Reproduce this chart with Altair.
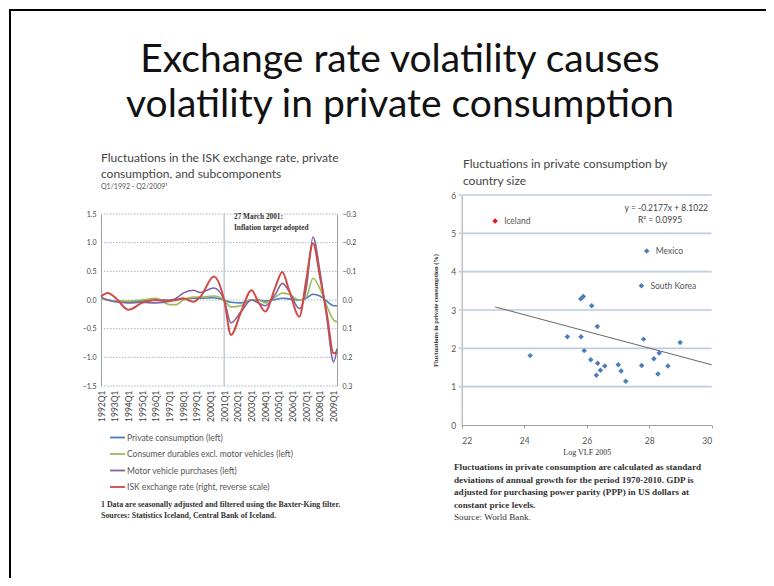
import altair as alt
import pandas as pd

W, H = 758, 570

# ---------------- Left panel data (quarterly, filtered) ----------------
quarters = ["1992Q1", "1992Q3", "1993Q1", "1994Q1", "1995Q1", "1996Q1", "1997Q1",
            "1997Q3", "1998Q1", "1998Q4", "1999Q2", "2000Q2", "2001Q1", "2001Q3",
            "2002Q2", "2003Q1", "2003Q3", "2004Q1", "2004Q4", "2005Q2", "2005Q4",
            "2006Q3", "2007Q1", "2007Q3", "2008Q1", "2008Q3", "2009Q1", "2009Q2"]
private_consumption = [0.03, 0.0, -0.02, -0.03, -0.02, 0.0, 0.0, 0.01, 0.02, 0.03, 0.03,
                       0.04, 0.0, -0.04, -0.05, 0.0, 0.0, -0.02, 0.01, 0.03, 0.02, 0.0,
                       0.03, 0.10, 0.07, -0.02, -0.10, -0.10]
consumer_durables = [0.02, 0.0, -0.02, -0.02, 0.0, 0.03, -0.08, -0.08, 0.0, 0.05, 0.05,
                     0.07, 0.0, -0.12, -0.10, 0.0, 0.0, -0.05, 0.05, 0.12, 0.10, 0.0,
                     0.05, 0.38, 0.20, -0.10, -0.35, -0.38]
motor_vehicles = [0.05, 0.0, -0.03, -0.05, -0.04, -0.05, -0.02, 0.03, 0.12, 0.17, 0.13,
                  0.21, 0.0, -0.40, -0.20, 0.0, -0.05, -0.10, 0.10, 0.29, 0.15, -0.15,
                  0.20, 1.10, 0.50, -0.30, -1.08, -0.85]
# right axis, reverse scale
isk_exchange_rate = [-0.012, -0.024, -0.010, 0.034, 0.010, 0.0, 0.004, 0.0, -0.006, 0.006,
                     -0.010, -0.082, 0.0, 0.122, 0.040, -0.034, 0.006, 0.040, -0.046,
                     -0.098, -0.034, 0.058, -0.070, -0.198, -0.082, 0.046, 0.186, 0.180]

series_names = ["Private consumption (left)",
                "Consumer durables excl. motor vehicles (left)",
                "Motor vehicle purchases (left)",
                "ISK exchange rate (right, reverse scale)"]
series_colors = ["#4A7EBB", "#9BBB59", "#8064A2", "#D04A46"]

left_ticks = [-1.5, -1.0, -0.5, 0.0, 0.5, 1.0, 1.5]
right_ticks = [-0.3, -0.2, -0.1, 0.0, 0.1, 0.2, 0.3]
year_ticks = list(range(1992, 2010))

# ---------------- Right panel data ----------------
scatter_x = [24.19, 25.38, 25.81, 25.89, 25.82, 25.92, 26.16, 26.13, 26.34, 26.35, 26.31,
             26.44, 26.58, 27.01, 27.10, 27.25, 27.76, 27.82, 28.15, 28.32, 28.28, 28.60,
             28.99]
scatter_y = [1.81, 2.30, 3.29, 3.35, 2.30, 1.94, 3.11, 1.70, 2.57, 1.61, 1.30, 1.43, 1.54,
             1.57, 1.41, 1.14, 1.55, 2.24, 1.73, 1.88, 1.33, 1.54, 2.15]
named_countries = ["Mexico", "South Korea"]
named_x = [27.92, 27.75]
named_y = [4.54, 3.63]
iceland_x = [23.07]
iceland_y = [5.32]
trend_slope = -0.2177
trend_intercept = 8.1022
trend_x_range = [23.07, 30.0]
right_y_ticks = [0, 1, 2, 3, 4, 5, 6]
right_x_ticks = [22, 24, 26, 28, 30]


def qdate(q):
    y, n = int(q[:4]), int(q[5])
    return f"{y}-{(n - 1) * 3 + 1:02d}-01T00:00:00"


dates = [qdate(q) for q in quarters]
df_left = pd.DataFrame({
    "date": dates * 3,
    "value": private_consumption + consumer_durables + motor_vehicles,
    "series": [series_names[0]] * len(dates) + [series_names[1]] * len(dates)
              + [series_names[2]] * len(dates),
})
df_red = pd.DataFrame({"date": dates, "value": isk_exchange_rate,
                       "series": [series_names[3]] * len(dates)})

# pixel frames of the panels (svg coords)
LX0, LX1, LY0, LY1 = 93, 329, 206, 378
RX0, RX1, RY0, RY1 = 453.7, 703.7, 187, 417

xscale = alt.Scale(domain=[alt.DateTime(year=1992, month=1, date=1),
                           alt.DateTime(year=2009, month=4, date=1)],
                   range=[LX0, LX1])
ly_scale = alt.Scale(domain=[-1.5, 1.5], range=[LY1, LY0], nice=False, zero=False)
ry_scale_red = alt.Scale(domain=[-0.3, 0.3], range=[LY0, LY1], nice=False, zero=False)
color_scale = alt.Scale(domain=series_names, range=series_colors)
legend = alt.Legend(orient="none", legendX=101, legendY=421, title=None,
                    symbolType="stroke", symbolSize=225, symbolStrokeWidth=1.8,
                    labelFont="Lato", labelFontSize=8.5, labelColor="#555",
                    labelLimit=400, rowPadding=3.5, labelOffset=1)

sx_scale = alt.Scale(domain=[22, 30], range=[RX0, RX1], nice=False, zero=False)
sy_scale = alt.Scale(domain=[0, 6], range=[RY1, RY0], nice=False, zero=False)

one = pd.DataFrame({"a": [0]})


def text_block(lines, x, y, size, font="Lato", weight="normal", color="#444",
               align="left", line_height=None, style="normal"):
    kw = dict(text=lines, align=align, baseline="alphabetic", font=font,
              fontSize=size, fontWeight=weight, color=color, fontStyle=style)
    if line_height:
        kw["lineHeight"] = line_height
    return alt.Chart(one).mark_text(**kw).encode(x=alt.value(x), y=alt.value(y))


frame_top = alt.Chart(one).mark_rule(color="black", strokeWidth=2).encode(
    x=alt.value(1), x2=alt.value(W), y=alt.value(2))
frame_left = alt.Chart(one).mark_rule(color="black", strokeWidth=2).encode(
    x=alt.value(2), y=alt.value(1), y2=alt.value(H))

title = text_block(["Exchange rate volatility causes", "volatility in private consumption"],
                   392, 64, 39, color="#111", align="center", line_height=45)

# ---- left panel ----
left_grid = alt.Chart(pd.DataFrame({"v": left_ticks})).mark_rule(
    color="#a9b4c2", strokeWidth=1, strokeDash=[1.5, 1.5]).encode(
    y=alt.Y("v:Q", scale=ly_scale, axis=None), x=alt.value(LX0), x2=alt.value(LX1))

vline = alt.Chart(pd.DataFrame({"d": [qdate("2001Q1")]})).mark_rule(
    color="#b3c4d6", strokeWidth=1.3).encode(
    x=alt.X("d:T", scale=xscale, axis=None), y=alt.value(LY0), y2=alt.value(LY1))

left_lines = alt.Chart(df_left).mark_line(interpolate="monotone", strokeWidth=1.6).encode(
    x=alt.X("date:T", scale=xscale,
            axis=alt.Axis(orient="bottom", offset=-(H - LY1), title=None,
                          values=[alt.DateTime(year=y, month=1, date=1) for y in year_ticks],
                          format="%YQ%q", labelAngle=270, labelFontSize=8.5,
                          labelFont="Lato", labelColor="#444", labelPadding=4,
                          domain=False, ticks=False, grid=False, labelOverlap=False)),
    y=alt.Y("value:Q", scale=ly_scale,
            axis=alt.Axis(orient="left", offset=-LX0, title=None, values=left_ticks,
                          format=".1f", labelFontSize=7, labelFont="Lato",
                          labelColor="#444", labelPadding=5, domainColor="#a0a0a0",
                          ticks=False, grid=False)),
    color=alt.Color("series:N", scale=color_scale, legend=legend),
)

red_line = alt.Chart(df_red).mark_line(interpolate="monotone", strokeWidth=2).encode(
    x=alt.X("date:T", scale=xscale, axis=None),
    y=alt.Y("value:Q", scale=ry_scale_red,
            axis=alt.Axis(orient="right", offset=-(W - LX1), title=None, values=right_ticks,
                          format=".1f", labelFontSize=7, labelFont="Lato",
                          labelColor="#444", labelPadding=5, domainColor="#a0a0a0",
                          ticks=False, grid=False)),
    color=alt.Color("series:N", scale=color_scale, legend=legend),
)

annot = text_block(["27 March 2001:", "Inflation target adopted"], 226, 211, 7.3,
                   font="Liberation Serif", weight="bold", color="#333", line_height=11)

left_title = text_block(["Fluctuations in the ISK exchange rate, private",
                         "consumption, and subcomponents"], 93, 154, 12,
                        color="#444", line_height=16)
left_sub = text_block(["Q1/1992 - Q2/2009\u00b9"], 93, 181, 7, color="#555")
left_foot = text_block(["1 Data are seasonally adjusted and filtered using the Baxter-King filter.",
                        "Sources: Statistics Iceland, Central Bank of Iceland."],
                       93, 499, 7.9, font="Liberation Serif", weight="bold",
                       color="#333", line_height=10.5)

# ---- right panel ----
right_grid = alt.Chart(pd.DataFrame({"v": right_y_ticks[1:]})).mark_rule(
    color="#bccde0", strokeWidth=1.6).encode(
    y=alt.Y("v:Q", scale=sy_scale, axis=None), x=alt.value(RX0 - 3), x2=alt.value(RX1))

pts = alt.Chart(pd.DataFrame({"x": scatter_x + named_x, "y": scatter_y + named_y})).mark_point(
    shape="diamond", filled=True, size=30, color="#4A7EBB", opacity=1).encode(
    x=alt.X("x:Q", scale=sx_scale,
            axis=alt.Axis(orient="bottom", offset=-(H - RY1), values=right_x_ticks,
                          title="Log VLF 2005", titleFont="Liberation Serif",
                          titleFontSize=8, titleFontWeight="normal", titleColor="#333",
                          titlePadding=4, labelFontSize=8.5, labelFont="Lato",
                          labelColor="#555", labelPadding=8, domainColor="#a0a0a0",
                          tickColor="#a0a0a0", tickSize=3, grid=False)),
    y=alt.Y("y:Q", scale=sy_scale,
            axis=alt.Axis(orient="left", offset=-RX0, values=right_y_ticks,
                          title="Fluctuations in private consumption (%)",
                          titleFont="Liberation Serif", titleFontSize=6.5,
                          titleFontWeight="bold", titleColor="#333", titlePadding=12,
                          labelFontSize=8.5, labelFont="Lato", labelColor="#555",
                          labelPadding=6, domainColor="#a0a0a0", ticks=False,
                          grid=False)),
)

iceland = alt.Chart(pd.DataFrame({"x": iceland_x, "y": iceland_y, "n": ["Iceland"]})).mark_point(
    shape="diamond", filled=True, size=30, color="#E8141B", opacity=1).encode(
    x=alt.X("x:Q", scale=sx_scale, axis=None), y=alt.Y("y:Q", scale=sy_scale, axis=None))

labels = alt.Chart(pd.DataFrame({"x": iceland_x + named_x, "y": iceland_y + named_y,
                                 "n": ["Iceland"] + named_countries})).mark_text(
    align="left", baseline="middle", dx=9, fontSize=8.5, font="Lato", color="#555").encode(
    x=alt.X("x:Q", scale=sx_scale, axis=None), y=alt.Y("y:Q", scale=sy_scale, axis=None),
    text="n:N")

trend_df = pd.DataFrame({"x": trend_x_range,
                         "y": [trend_slope * v + trend_intercept for v in trend_x_range]})
trend = alt.Chart(trend_df).mark_line(color="#666", strokeWidth=1).encode(
    x=alt.X("x:Q", scale=sx_scale, axis=None), y=alt.Y("y:Q", scale=sy_scale, axis=None))

eq1 = text_block(["y = -0.2177x + 8.1022"], 700, 203, 8.5, color="#444", align="right")
eq2 = text_block(["R\u00b2 = 0.0995"], 652, 215, 8.5, color="#444", align="center")

right_title = text_block(["Fluctuations in private consumption by", "country size"],
                         455, 160, 12, color="#444", line_height=17)
right_notes = text_block(["Fluctuations in private consumption are calculated as standard",
                          "deviations of annual growth for the period 1970-2010. GDP is",
                          "adjusted for purchasing power parity (PPP) in US dollars at",
                          "constant price levels."],
                         446, 462, 9.2, font="Liberation Serif", weight="bold",
                         color="#333", line_height=12.5)
right_source = text_block(["Source: World Bank."], 446, 512, 9.2,
                          font="Liberation Serif", color="#333")

chart = alt.layer(
    frame_top, frame_left, title,
    left_grid, vline, left_lines, red_line, annot, left_title, left_sub, left_foot,
    right_grid, trend, pts, iceland, labels, eq1, eq2, right_title, right_notes, right_source,
).resolve_scale(x="independent", y="independent").properties(
    width=W, height=H, padding=0, autosize="none", background="white"
).configure_view(stroke=None)

chart.save("out.html", embed_options={"renderer": "svg", "actions": False})
